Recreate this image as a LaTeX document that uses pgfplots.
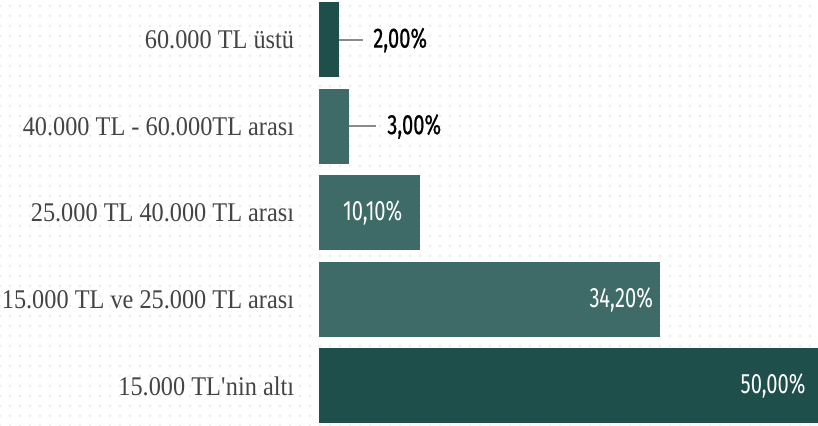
\documentclass[border=0pt]{standalone}
\usepackage{fontspec}
\setmainfont{Liberation Serif}
\newfontfamily\catfont[FakeStretch=0.9]{Liberation Serif}
\newfontfamily\valfont[FakeStretch=0.72]{Fira Sans}
\newfontfamily\valfontb[FakeStretch=0.72,FakeBold=0.6]{Fira Sans}
\usepackage{pgfplots}
\pgfplotsset{compat=1.18}
\usetikzlibrary{patterns.meta}
\definecolor{darkteal}{HTML}{1F4F4B}
\definecolor{midteal}{HTML}{3E6B68}
\definecolor{labelgray}{HTML}{444444}
\definecolor{leader}{HTML}{8A8A8A}

\begin{document}
\begin{tikzpicture}
% dotted background
\fill[white] (0,0) rectangle (409pt,213pt);
\fill[pattern={Dots[distance=5pt,radius=0.75pt]}, pattern color=black!7] (0,0) rectangle (409pt,213pt);
\begin{axis}[
    at={(159.5pt,0pt)}, anchor=south west,
    scale only axis, width=249.5pt, height=213pt,
    xmin=0, xmax=50, ymin=-0.4624, ymax=4.4624,
    axis line style={draw=none}, tick style={draw=none},
    xtick=\empty,
    ytick={0,...,4},
    yticklabels={15.000 TL\textquotesingle nin altı, 15.000 TL ve 25.000 TL arası, 25.000 TL 40.000 TL arası, 40.000 TL - 60.000TL arası, 60.000 TL üstü},
    yticklabel style={font=\catfont\fontsize{13.5}{15}\selectfont, text=labelgray, inner sep=0pt, anchor=east, xshift=-8pt},
    xbar, bar width=37.5pt, bar shift=0pt,
    point meta=explicit symbolic,
    nodes near coords,
    every node near coord/.append style={font=\valfont\fontsize{14}{16}\selectfont, inner sep=0pt},
    clip=false,
]
% outside labels
\addplot[fill=darkteal, draw=none, every node near coord/.append style={anchor=west, xshift=17pt, text=black, font=\valfontb\fontsize{14}{16}\selectfont}]
    coordinates {(2,4) [{2,00\%}]};
\addplot[fill=midteal, draw=none, every node near coord/.append style={anchor=west, xshift=19pt, text=black, font=\valfontb\fontsize{14}{16}\selectfont}]
    coordinates {(3,3) [{3,00\%}]};
% inside labels
\addplot[fill=midteal, draw=none, every node near coord/.append style={anchor=east, xshift=-8.5pt, text=white}]
    coordinates {(10.1,2) [{10,10\%}]};
\addplot[fill=midteal, draw=none, every node near coord/.append style={anchor=east, xshift=-3.5pt, text=white}]
    coordinates {(34.2,1) [{34,20\%}]};
\addplot[fill=darkteal, draw=none, every node near coord/.append style={anchor=east, xshift=-6pt, text=white}]
    coordinates {(50,0) [{50,00\%}]};
% leader lines
\draw[leader, line width=1pt] (axis cs:2,4) -- ++(12pt,0pt);
\draw[leader, line width=1pt] (axis cs:3,3) -- ++(13.5pt,0pt);
\end{axis}
\pgfresetboundingbox
\useasboundingbox (0,0) rectangle (409pt,213pt);
\end{tikzpicture}
\end{document}
